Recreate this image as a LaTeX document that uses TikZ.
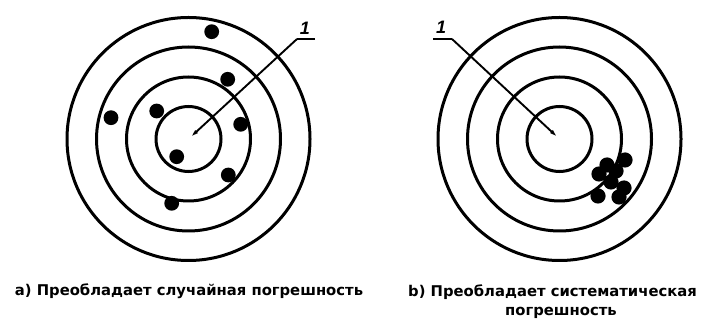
\documentclass[tikz,border=0pt]{standalone}
\usepackage{fontspec}
\setmainfont{Liberation Sans}
\newfontfamily\capfont{DejaVu Sans}
\usetikzlibrary{arrows.meta}
\begin{document}
\begin{tikzpicture}[x=1pt,y=-1pt,
  ring/.style={line width=3pt},
  shot/.style={fill=black},
  leader/.style={line width=1.9pt,-{Latex[length=11pt,width=4pt]}},
  caption/.style={font=\capfont\bfseries\fontsize{14.8}{17}\selectfont,inner sep=0pt},
  numlabel/.style={font=\itshape\bfseries\fontsize{18}{18}\selectfont,inner sep=0pt}]
\useasboundingbox (0,0) rectangle (709,320);
% left target
\coordinate (cl) at (188.5,139);
\foreach \r in {121.5,92,62,32.5} \draw[ring] (cl) circle[radius=\r];
\foreach \p in {(211.7,31.7),(227.7,79.3),(111,117.7),(156.7,111),(240.7,124.3),(176.7,156.7),(228.3,175),(171.7,203.3)}
  \fill[shot] \p circle[radius=7.4];
\coordinate (bl) at (297,39);
\coordinate (el) at (315,39);
\draw[line width=1.9pt] (el) -- (bl);
\draw[leader] (bl) -- (cl);
\node[numlabel] (n1) at (305,28) {1};
% right target
\coordinate (cr) at (559.5,139);
\foreach \r in {121.5,92,62,32.5} \draw[ring] (cr) circle[radius=\r];
\foreach \p in {(607,165),(625,160),(599,174),(611,182),(624,188),(619,197),(598,196),(616,171)}
  \fill[shot] \p circle[radius=7.6];
\coordinate (br) at (452,39);
\coordinate (er) at (433,39);
\draw[line width=1.9pt] (er) -- (br);
\draw[leader] (br) -- (cr);
\node[numlabel] (n2) at (441,27) {1};
% captions
\node[caption] (ca) at (189,291) {а) Преобладает случайная погрешность};
\node[caption,anchor=west] (cb) at (408,292) {b) Преобладает систематическая};
\node[caption] (cb2) at (561,313) {погрешность};
\end{tikzpicture}
\end{document}
